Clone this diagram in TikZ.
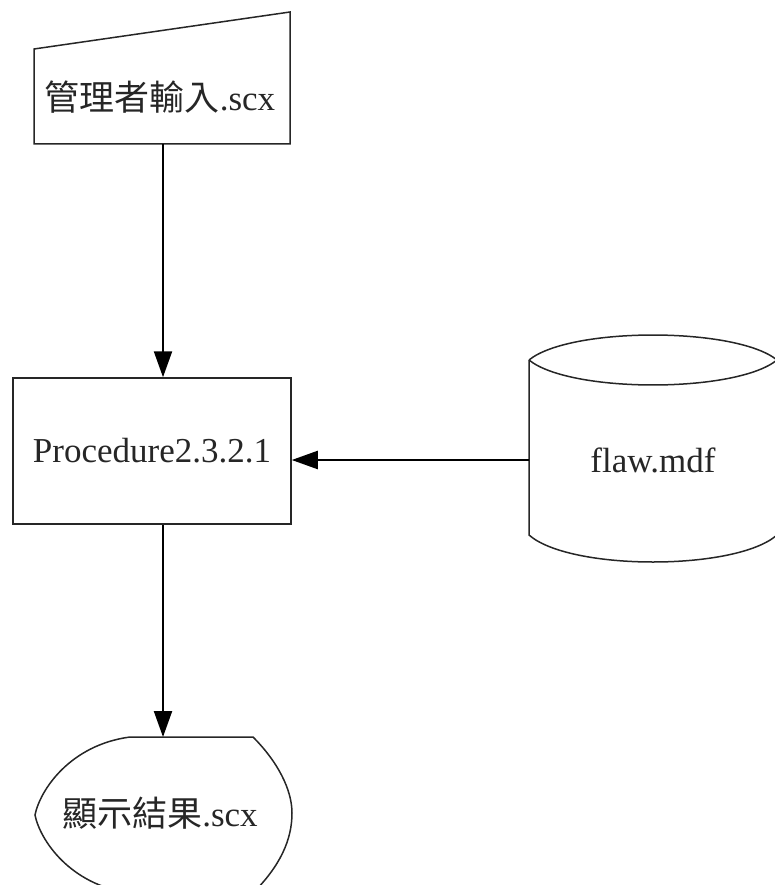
\documentclass[tikz,border=0pt]{standalone}
\usepackage{fontspec}
\setmainfont{Liberation Serif}
\newfontfamily\cjk{Noto Sans CJK TC}
\usetikzlibrary{arrows.meta}
\tikzset{
  shapeline/.style={draw=black!85, line width=1.5pt},
  arr/.style={draw=black, line width=2.2pt, -{Triangle[length=26pt,width=18pt]}},
  lbl/.style={font=\fontsize{35}{40}\selectfont, text=black!85, inner sep=0pt}
}
\begin{document}
\begin{tikzpicture}[x=1pt,y=-1pt]
\useasboundingbox (0,0) rectangle (775,885);
\clip (0,0) rectangle (775,885);
% manual input
\draw[shapeline] (34,49) -- (290,12) -- (290,144) -- (34,144) -- cycle;
\node[lbl] (inp) at (160,97) {\cjk 管理者輸入\rmfamily.scx};
\coordinate (inpb) at (163,144);
% process
\node[shapeline, lbl, minimum width=278pt, minimum height=146pt] (proc) at (152,451) {Procedure2.3.2.1};
% database cylinder
\draw[shapeline] (529,360) .. controls (570,326.7) and (736,326.7) .. (777,360);
\draw[shapeline] (529,360) .. controls (570,393.3) and (736,393.3) .. (777,360);
\draw[shapeline] (529,360) -- (529,535) .. controls (570,571) and (736,571) .. (777,535);
\node[lbl] (db) at (653,460) {flaw.mdf};
\coordinate (dbw) at (529,460);
% display
\draw[shapeline] (130,737) -- (253,737)
  .. controls (278,762) and (292,790) .. (292,813)
  .. controls (292,840) and (280,866) .. (253,893)
  -- (130,893)
  .. controls (70,885) and (40,840) .. (35,815)
  .. controls (40,790) and (70,745) .. (130,737) -- cycle;
\node[lbl] (disp) at (160,813) {\cjk 顯示結果\rmfamily.scx};
\coordinate (dispt) at (163,737);
% connectors
\draw[arr] (inpb) -- (inpb |- proc.north);
\draw[arr] (dbw) -- (proc.east |- dbw);
\draw[arr] (proc.south -| dispt) -- (dispt);
\end{tikzpicture}
\end{document}
